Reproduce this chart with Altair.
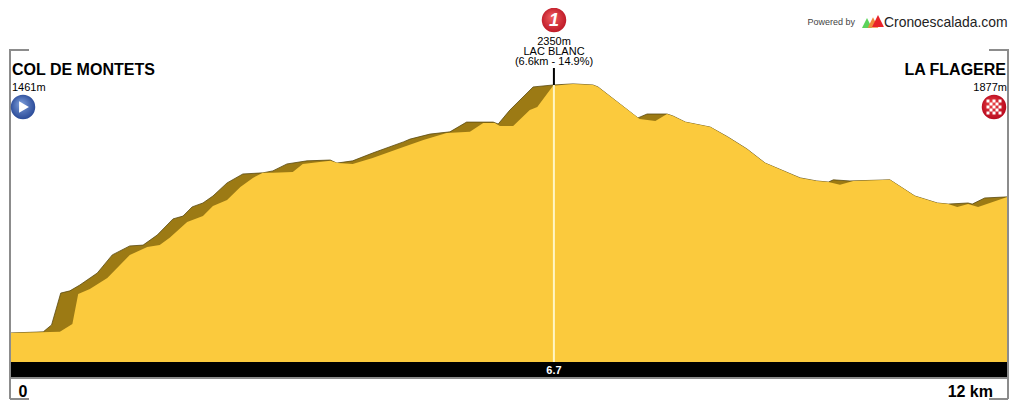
import altair as alt
import pandas as pd

# Distance (km) and elevation (m)
back_km = [0, .40, .50, .61, .72, .84, 1.05, 1.23, 1.44, 1.60, 1.77, 1.96, 2.08, 2.19, 2.32, 2.44, 2.61, 2.80,
           3.04, 3.16, 3.33, 3.57, 3.85, 3.93, 4.12, 4.36, 4.73, 4.81, 5.05, 5.29, 5.49, 5.81, 5.87, 6.01, 6.29,
           6.53, 6.77, 7.01, 7.07, 7.55, 7.66, 7.90, 7.97, 8.12, 8.42, 8.63, 8.86, 9.08, 9.50, 9.70, 9.84, 9.90,
           10.10, 10.58, 10.88, 11.15, 11.28, 11.52, 11.57, 11.72, 12]
back_m = [1461, 1465, 1490, 1604, 1612, 1633, 1676, 1741, 1773, 1776, 1812, 1870, 1880, 1913, 1927, 1952, 1999, 2031,
          2035, 2042, 2067, 2078, 2081, 2070, 2078, 2106, 2146, 2156, 2174, 2182, 2217, 2217, 2210, 2260, 2343,
          2350, 2354, 2350, 2343, 2232, 2246, 2246, 2239, 2217, 2199, 2164, 2121, 2070, 2017, 2006, 2002, 2010,
          2006, 2010, 1952, 1927, 1923, 1927, 1923, 1945, 1949]
front_km = [0, .60, .75, .82, .96, 1.17, 1.44, 1.65, 1.80, 1.92, 2.13, 2.32, 2.44, 2.61, 2.77, 2.92, 3.04, 3.16,
            3.40, 3.52, 3.85, 3.94, 4.12, 4.36, 4.73, 4.97, 5.25, 5.53, 5.69, 5.83, 5.89, 6.05, 6.25, 6.34, 6.53,
            6.77, 7.01, 7.07, 7.57, 7.76, 7.90, 7.97, 8.12, 8.42, 8.63, 8.86, 9.08, 9.50, 9.70, 9.84, 9.98, 10.14,
            10.58, 10.88, 11.15, 11.28, 11.39, 11.52, 11.64, 12]
front_m = [1461, 1465, 1493, 1601, 1619, 1658, 1741, 1769, 1776, 1802, 1859, 1880, 1916, 1938, 1984, 2017, 2035, 2035,
           2038, 2067, 2078, 2070, 2067, 2088, 2128, 2153, 2178, 2182, 2214, 2214, 2203, 2203, 2260, 2271, 2347,
           2354, 2350, 2343, 2228, 2221, 2246, 2239, 2217, 2199, 2164, 2121, 2070, 2017, 2006, 2002, 1992, 2006,
           2010, 1952, 1927, 1923, 1913, 1923, 1913, 1949]
summit_km = [6.54]
summit_m = [2350]

FONT = "Liberation Sans"
GREY = "#8c8c8c"
BASE = 1357
X = alt.X("km:Q", axis=None, scale=alt.Scale(domain=[0, 12], range=[2, 1000]))
Y = alt.Y("m:Q", axis=None, scale=alt.Scale(domain=[BASE, 2626], range=[354, 0]))

back = pd.DataFrame({"km": back_km, "m": back_m})
front = pd.DataFrame({"km": front_km, "m": front_m})
summit = pd.DataFrame({"km": summit_km, "m": summit_m})

def px(v):
    return alt.value(v - 8)

def text(label, x, y, size=11, weight="normal", align="center", color="#000000", **kw):
    return alt.Chart().mark_text(text=label, font=FONT, fontSize=size, fontWeight=weight, align=align,
                                 baseline="alphabetic", color=color, **kw).encode(x=px(x), y=px(y))

def rule(x1, y1, x2, y2, color=GREY, w=2):
    return alt.Chart().mark_rule(color=color, strokeWidth=w).encode(x=px(x1), y=px(y1), x2=px(x2), y2=px(y2))

def ball(x, y, inner, outer):
    grad = alt.Gradient(gradient="radial", x1=.4, y1=.35, r1=0, x2=.5, y2=.5, r2=.6,
                        stops=[alt.GradientStop(color=inner, offset=0), alt.GradientStop(color=outer, offset=1)])
    return alt.Chart().mark_point(shape="circle", filled=True, fill=grad, opacity=1, size=600).encode(x=px(x), y=px(y))

def glyph(shape, x, y, color, size):
    return alt.Chart().mark_point(shape=shape, filled=True, fill=color, opacity=1, size=size).encode(x=px(x), y=px(y))

layers = [
    alt.Chart(back).mark_area(color="#9c7a14", opacity=1, line={"color": "#5a4a10", "strokeWidth": 0.8}).encode(
        x=X, y=Y, y2=alt.datum(BASE)),
    alt.Chart(front).mark_area(color="#fbca3d", opacity=1).encode(x=X, y=Y, y2=alt.datum(BASE)),
    alt.Chart(summit).mark_rule(color="#fff6c4", strokeWidth=2).encode(x=X, y=Y, y2=alt.datum(BASE)),
    alt.Chart(summit).mark_rule(color="#000000", strokeWidth=2).encode(x=X, y=Y, y2=px(68)),
    alt.Chart().mark_rect(color="#000000").encode(x=px(10), x2=px(1008), y=px(362), y2=px(377)),
    rule(10, 378, 1008, 378),
    rule(10, 49, 10, 399), rule(10, 50, 29, 50), rule(10, 399, 29, 399),
    rule(1008, 49, 1008, 399), rule(989, 50, 1008, 50), rule(989, 399, 1008, 399),
    text("COL DE MONTETS", 12, 75, 16, "bold", "left"),
    text("LA FLAGERE", 1006, 75, 16, "bold", "right"),
    text("1461m", 12, 91, 11, align="left"),
    text("1877m", 1007, 91, 11, align="right"),
    text("2350m", 554, 45),
    text("LAC BLANC", 554, 55),
    text("(6.6km - 14.9%)", 554, 65),
    text("6.7", 554, 374, 11, "bold", color="#ffffff"),
    text("0", 23, 397, 16, "bold"),
    text("12 km", 993, 397, 16, "bold", "right"),
    text("Powered by", 855, 25, 9, align="right", color="#444444"),
    text("Cronoescalada.com", 884, 27, 13.9, align="left", color="#222222"),
    glyph("M-1,1L0,-1L1,1Z", 867, 23, "#5bd35b", 100),
    glyph("M-1,1L0,-1L1,1Z", 873, 22.5, "#f08a3c", 110),
    glyph("M-1,1L0,-1L1,1Z", 878, 21, "#e8232a", 140),
    ball(23, 107, "#7fa0dc", "#1f3f8f"),
    glyph("triangle-right", 24, 107, "#ffffff", 130),
    ball(994, 107, "#f04a4a", "#b00018"),
    ball(554, 20, "#f06060", "#b81020"),
    text("1", 554, 26, 18, "bold", color="#ffffff", fontStyle="italic"),
]
for row in range(5):
    for col in range(5):
        if (row + col) % 2 == 0:
            layers.append(glyph("square", 988 + col * 3, 101 + row * 3, "#ffffff", 9))

chart = alt.layer(*layers).properties(
    width=1003, height=393, padding=0, background="#ffffff",
    autosize=alt.AutoSizeParams(type="none"),
).configure_view(stroke=None)

chart.save("out.html", embed_options={"renderer": "svg", "actions": False})
